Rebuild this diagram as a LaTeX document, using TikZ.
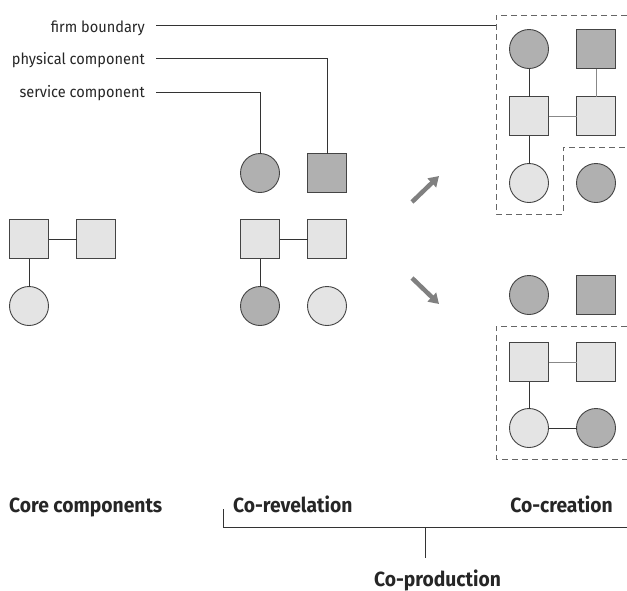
\documentclass[tikz,border=0pt]{standalone}
\usepackage{fontspec}
\setmainfont{Fira Sans}[FakeStretch=0.94]
\usetikzlibrary{arrows.meta}
\definecolor{lightfill}{HTML}{E4E4E4}
\definecolor{darkfill}{HTML}{B0B0B0}
\definecolor{edge}{HTML}{444444}
\definecolor{linkdark}{HTML}{333333}
\definecolor{linkgray}{HTML}{888888}
\definecolor{arrowgray}{HTML}{808080}
\definecolor{dashgray}{HTML}{666666}
\tikzset{
  comp/.style={draw=edge, line width=0.9pt, minimum size=39pt, inner sep=0pt, outer sep=0pt},
  lsq/.style={comp, rectangle, fill=lightfill},
  dsq/.style={comp, rectangle, fill=darkfill},
  lci/.style={comp, circle, fill=lightfill},
  dci/.style={comp, circle, fill=darkfill},
  ldark/.style={draw=linkdark, line width=0.9pt},
  lgray/.style={draw=linkgray, line width=1pt},
  legline/.style={draw=linkdark, line width=0.9pt},
  legtext/.style={font=\fontsize{15.5}{18}\selectfont, text=black!85, inner sep=0pt, anchor=base east},
  labtext/.style={font=\fontsize{20.5}{24}\selectfont\bfseries, text=black!85, inner sep=0pt},
  boundary/.style={draw=dashgray, line width=1pt, dash pattern=on 6pt off 4pt},
  bigarrow/.style={draw=arrowgray, line width=4.5pt, -{Triangle[length=10pt,width=12pt]}},
  bracket/.style={draw=linkdark, line width=0.9pt}
}
\begin{document}
\begin{tikzpicture}[x=1pt,y=-1pt]
\useasboundingbox (0,0) rectangle (627,590);

% ---- core components (left)
\node[lsq] (a1) at (29,239) {};
\node[lsq] (a2) at (96,239) {};
\node[lci] (a3) at (29,306) {};
\draw[ldark] (a1) -- (a2);
\draw[ldark] (a1) -- (a3);

% ---- co-revelation (middle)
\node[dci] (m1) at (260,173) {};
\node[dsq] (m2) at (327,173) {};
\node[lsq] (m3) at (260,239) {};
\node[lsq] (m4) at (327,239) {};
\node[dci] (m5) at (260,306) {};
\node[lci] (m6) at (327,306) {};
\draw[ldark] (m3) -- (m4);
\draw[ldark] (m3) -- (m5);

% ---- legend
\node[legtext] (lfirm) at (145,32) {firm boundary};
\node[legtext] (lphys) at (145,64) {physical component};
\node[legtext] (lserv) at (145,97) {service component};
\coordinate (fb) at (496,25);
\draw[legline] (156,25) coordinate (fs) -- (fb);
\draw[legline] (156,58) coordinate (ps) -| (m2.north);
\draw[legline] (156,92) coordinate (ss) -| (m1.north);

% ---- arrows
\coordinate (au1) at (412,202);
\coordinate (au2) at (439,176);
\coordinate (ad1) at (412,278);
\coordinate (ad2) at (439,304);
\draw[bigarrow] (au1) -- (au2);
\draw[bigarrow] (ad1) -- (ad2);

% ---- co-creation upper (top right)
\node[dci] (u1) at (529,49) {};
\node[dsq] (u2) at (596,49) {};
\node[lsq] (u3) at (529,116) {};
\node[lsq] (u4) at (596,116) {};
\node[lci] (u5) at (529,183) {};
\node[dci] (u6) at (596,183) {};
\draw[ldark] (u1) -- (u3);
\draw[lgray] (u2) -- (u4);
\draw[lgray] (u3) -- (u4);
\draw[ldark] (u3) -- (u5);
\draw[boundary] (627,15) -- (496,15) -- (496,214) -- (563,214) -- (563,147) -- (627,147);

% ---- co-creation lower (bottom right)
\node[dci] (w1) at (529,295) {};
\node[dsq] (w2) at (596,295) {};
\node[lsq] (w3) at (529,362) {};
\node[lsq] (w4) at (596,362) {};
\node[lci] (w5) at (529,428) {};
\node[dci] (w6) at (596,428) {};
\draw[lgray] (w3) -- (w4);
\draw[ldark] (w3) -- (w5);
\draw[ldark] (w5) -- (w6);
\draw[boundary] (627,326) -- (496,326) -- (496,459) -- (627,459);

% ---- bottom labels
\node[labtext, anchor=base west] (core) at (9,512) {Core components};
\node[labtext, anchor=base west] (rev) at (233,512) {Co-revelation};
\node[labtext, anchor=base east] (cre) at (613,512) {Co-creation};
\node[labtext, anchor=base west] (prod) at (374,586) {Co-production};
\coordinate (bl) at (223,509);
\coordinate (bc) at (223,527);
\coordinate (br) at (627,527);
\coordinate (sm) at (425,527);
\coordinate (sb) at (425,558);
\draw[bracket] (bl) -- (bc) -- (br);
\draw[bracket] (sm) -- (sb);
\end{tikzpicture}
\end{document}
